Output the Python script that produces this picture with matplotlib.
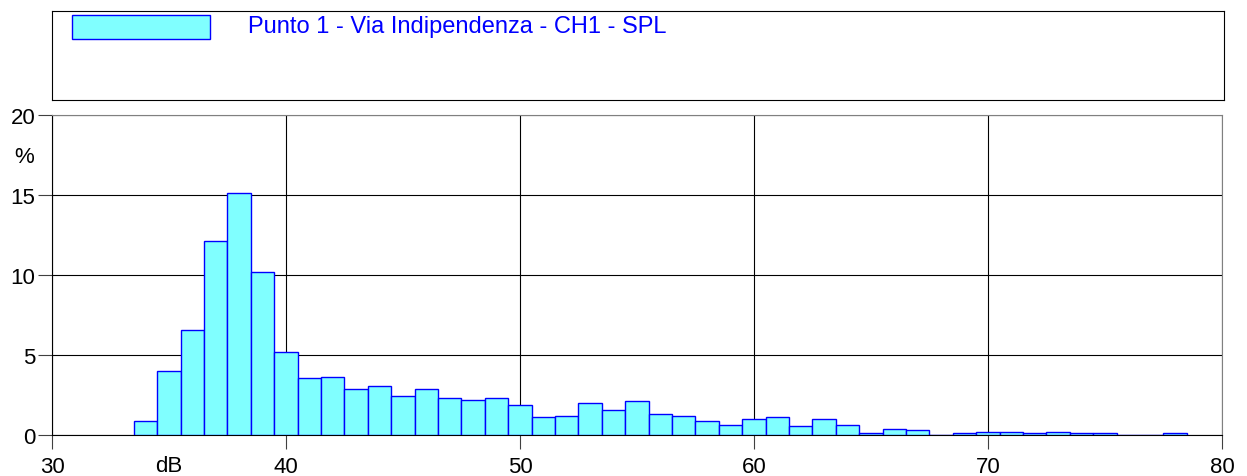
import matplotlib
matplotlib.use("Agg")
from matplotlib import pyplot as plt
from matplotlib.patches import Rectangle
import matplotlib.transforms as mtransforms

plt.rcParams['font.family'] = ['Liberation Sans', 'DejaVu Sans']

# level classes (dB, 1 dB bins) and percentage of time
levels = list(range(34, 79))
percent = [0.85, 4.0, 6.55, 12.1, 15.1, 10.2, 5.2, 3.55, 3.65, 2.85, 3.08, 2.42,
           2.85, 2.31, 2.19, 2.31, 1.86, 1.1, 1.2, 2.0, 1.54, 2.1, 1.31, 1.19,
           0.87, 0.65, 0.98, 1.1, 0.54, 0.97, 0.65, 0.1, 0.4, 0.3, 0.02, 0.1,
           0.21, 0.21, 0.1, 0.21, 0.1, 0.1, 0.02, 0.02, 0.1]
series_name = "Punto 1 - Via Indipendenza - CH1 - SPL"
xticks = [30, 40, 50, 60, 70, 80]
yticks = [0, 5, 10, 15, 20]

W, H = 1247, 477
fig = plt.figure(figsize=(W / 100, H / 100), dpi=100)

# main histogram
ax = fig.add_axes([52 / W, 1 - 436 / H, (1222 - 52) / W, (436 - 116) / H])
ax.bar(levels, percent, width=1, color='#80FFFF', edgecolor='#0000FF', linewidth=1, zorder=3)
ax.set_xlim(30, 80)
ax.set_ylim(0, 20)
ax.set_xticks(xticks)
ax.set_yticks(yticks)
ax.tick_params(labelsize=16, length=10, width=0.8, color='#404040', direction='out')
ax.tick_params(axis='x', pad=5)
ax.tick_params(axis='y', pad=2)
ax.grid(True, color='black', linewidth=0.8, zorder=1)
for s in ['top', 'right']:
    ax.spines[s].set_color('#808080')
for s in ['left', 'bottom']:
    ax.spines[s].set_color('black')
ax.text(-0.024, 0.87, '%', transform=ax.transAxes, fontsize=16, ha='center', va='center')
trans = mtransforms.blended_transform_factory(ax.transData, ax.transAxes)
ax.text(35, -0.063, 'dB', transform=trans, fontsize=16, ha='center', va='top')

# legend box
lax = fig.add_axes([52 / W, 1 - 101 / H, (1224 - 52) / W, (101 - 12) / H])
lax.set_xticks([])
lax.set_yticks([])
for s in lax.spines.values():
    s.set_linewidth(0.8)
lax.add_patch(Rectangle((20 / 1172, 1 - 28 / 89), 138 / 1172, 24 / 89,
                        transform=lax.transAxes, facecolor='#80FFFF', edgecolor='#0000FF', linewidth=1))
lax.text(196 / 1172, 1 - 21 / 89, series_name, transform=lax.transAxes,
         color='#0000FF', fontsize=17, ha='left', va='baseline')

plt.savefig("out.png", dpi=100)
